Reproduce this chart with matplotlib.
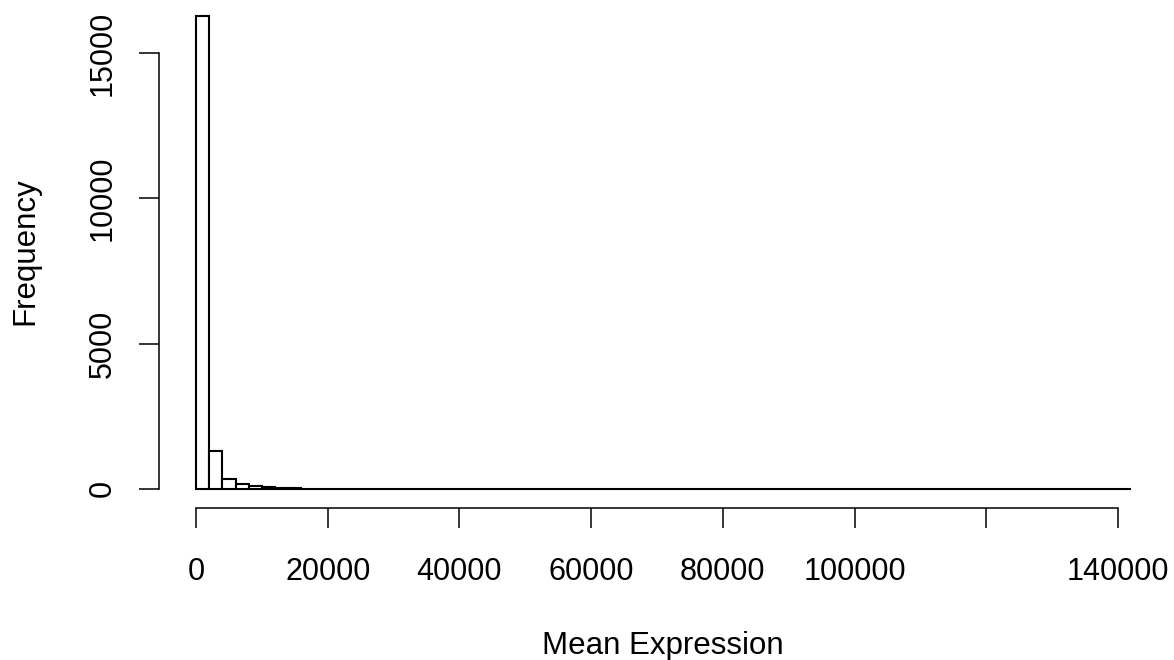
import matplotlib
matplotlib.use("Agg")
import matplotlib.pyplot as plt
import numpy as np

# histogram bins of width 2000 from 0 to 142000
bin_width = 2000
counts = [16280, 1310, 345, 180, 90, 50, 30, 20, 12, 9,
          7, 5, 4, 4, 3, 3, 2, 2, 2, 0,
          1, 0, 1, 1, 1, 0, 0, 0, 1, 0,
          0, 0, 0, 0, 0, 0, 0, 0, 0, 0,
          0, 1, 0, 0, 0, 0, 0, 0, 1, 1,
          0, 1, 0, 1, 0, 0, 0, 0, 0, 0,
          0, 0, 0, 0, 0, 0, 0, 0, 0, 0,
          1]
x_ticks = [0, 20000, 40000, 60000, 80000, 100000, 120000, 140000]
x_ticklabels = ["0", "20000", "40000", "60000", "80000", "100000", "", "140000"]
y_ticks = [0, 5000, 10000, 15000]

plt.rcParams['font.family'] = ['Liberation Sans', 'DejaVu Sans']

edges = np.arange(len(counts)) * bin_width
xmax = len(counts) * bin_width
ymax = max(counts)

fig = plt.figure(figsize=(11.74, 6.6), dpi=100)
ax = fig.add_axes([158.6 / 1174, (660 - 507.8) / 660, 1010 / 1174, 510.9 / 660])

ax.bar(edges, counts, width=bin_width, align='edge', facecolor='white',
       edgecolor='black', linewidth=1.5)

ax.set_xlim(-0.04 * xmax, 1.04 * xmax)
ax.set_ylim(-0.04 * ymax, 1.04 * ymax)

for s in ['top', 'right']:
    ax.spines[s].set_visible(False)
ax.spines['left'].set_bounds(0, 15000)
ax.spines['bottom'].set_bounds(0, 140000)
ax.spines['left'].set_linewidth(1.1)
ax.spines['bottom'].set_linewidth(1.1)

ax.set_xticks(x_ticks)
ax.set_xticklabels(x_ticklabels)
ax.set_yticks(y_ticks)
ax.set_yticklabels([str(v) for v in y_ticks], rotation=90, va='center')
ax.tick_params(axis='both', direction='out', length=14.4, width=1.1,
               labelsize=22)
ax.tick_params(axis='x', pad=21)
ax.tick_params(axis='y', pad=15)

fig.text(663 / 1174, 6 / 660, "Mean Expression", ha='center',
         va='baseline', fontsize=22.5)
fig.text(25 / 1174, 1 - 251 / 660, "Frequency", ha='center', va='center',
         rotation=90, fontsize=22.5)

fig.savefig("out.png", dpi=100)
